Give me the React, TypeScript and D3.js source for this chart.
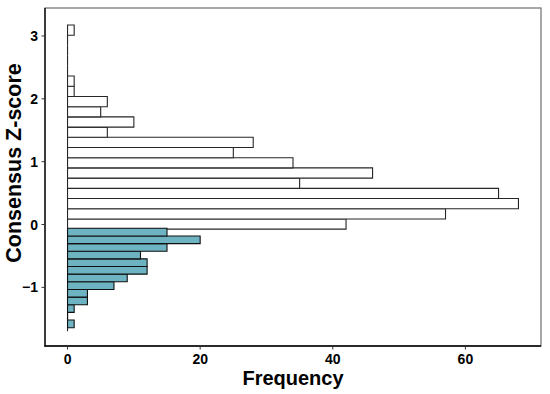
import { useEffect, useRef } from 'react';
import * as d3 from 'd3';

// histogram of positive scores (white), bins from bottom to top
const whiteStart = -1.698;
const whiteWidth = 0.1624;
const whiteCounts = [0, 0, 0, 0, 0, 0, 0, 0, 0, 0, 42, 57, 68, 65, 35, 46, 34, 25, 28, 6, 10, 5, 6, 1, 1, 0, 0, 0, 0, 1];

// histogram of negative scores (teal), bins from bottom to top
const tealStart = -1.642;
const tealWidth = 0.1217;
const tealCounts = [1, 0, 1, 3, 3, 7, 9, 12, 12, 11, 15, 20, 15];

const xTicks = [0, 20, 40, 60];
const yTicks = [-1, 0, 1, 2, 3];

const W = 550;
const H = 394;
const FONT = '"Liberation Sans", Arial, Helvetica, sans-serif';

const App = () => {
    const ref = useRef<SVGSVGElement>(null);

    useEffect(() => {
        const svg = d3.select(ref.current);
        svg.selectAll('*').remove();

        const x = d3.scaleLinear().domain([-3.4, 71.4]).range([45, 541]);
        const y = d3.scaleLinear().domain([-1.933, 3.445]).range([346, 8]);

        // panel border
        svg.append('rect')
            .attr('x', 45).attr('y', 8)
            .attr('width', 496).attr('height', 338)
            .attr('fill', 'white')
            .attr('stroke', '#6f6f6f')
            .attr('stroke-width', 1.2);

        // bars as paths so that empty bins still draw the zero line
        const barPath = (start: number, width: number) => (c: number, i: number) => {
            const y0 = y(start + i * width);
            const y1 = y(start + (i + 1) * width);
            return `M${x(0)},${y0}H${x(c)}V${y1}H${x(0)}Z`;
        };

        svg.append('g').selectAll('path')
            .data(whiteCounts)
            .join('path')
            .attr('d', barPath(whiteStart, whiteWidth))
            .attr('fill', 'white')
            .attr('stroke', '#262626')
            .attr('stroke-width', 1.1);

        svg.append('g').selectAll('path')
            .data(tealCounts)
            .join('path')
            .attr('d', barPath(tealStart, tealWidth))
            .attr('fill', '#6db3c2')
            .attr('stroke', '#111')
            .attr('stroke-width', 1.1);

        // axis lines
        svg.append('line')
            .attr('x1', 45).attr('x2', 45).attr('y1', 8).attr('y2', 346.6)
            .attr('stroke', 'black').attr('stroke-width', 1.3);
        svg.append('line')
            .attr('x1', 44.4).attr('x2', 541).attr('y1', 346).attr('y2', 346)
            .attr('stroke', 'black').attr('stroke-width', 1.3);

        // x ticks
        const xt = svg.append('g');
        xt.selectAll('line').data(xTicks).join('line')
            .attr('x1', d => x(d)).attr('x2', d => x(d))
            .attr('y1', 346).attr('y2', 349.5)
            .attr('stroke', '#333');
        xt.selectAll('text').data(xTicks).join('text')
            .attr('x', d => x(d)).attr('y', 364)
            .attr('text-anchor', 'middle')
            .attr('font-family', FONT).attr('font-weight', 'bold').attr('font-size', 14)
            .attr('fill', 'black')
            .text(d => d);

        // y ticks
        const yt = svg.append('g');
        yt.selectAll('line').data(yTicks).join('line')
            .attr('x1', 41.5).attr('x2', 45)
            .attr('y1', d => y(d)).attr('y2', d => y(d))
            .attr('stroke', '#333');
        yt.selectAll('text').data(yTicks).join('text')
            .attr('x', 38).attr('y', d => y(d) + 5)
            .attr('text-anchor', 'end')
            .attr('font-family', FONT).attr('font-weight', 'bold').attr('font-size', 14)
            .attr('fill', 'black')
            .text(d => (d < 0 ? '\u2212' + Math.abs(d) : String(d)));

        // axis titles
        svg.append('text')
            .attr('x', 293).attr('y', 385)
            .attr('text-anchor', 'middle')
            .attr('font-family', FONT).attr('font-weight', 'bold').attr('font-size', 20)
            .attr('fill', 'black')
            .text('Frequency');

        svg.append('text')
            .attr('transform', 'translate(21,163) rotate(-90)')
            .attr('text-anchor', 'middle')
            .attr('font-family', FONT).attr('font-weight', 'bold').attr('font-size', 21.5)
            .attr('fill', 'black')
            .text('Consensus Z-score');
    }, []);

    return (
        <svg
            ref={ref}
            width={W}
            height={H}
            style={{ position: 'absolute', left: 0, top: 0, background: 'white' }}
        />
    );
};

export default App;
